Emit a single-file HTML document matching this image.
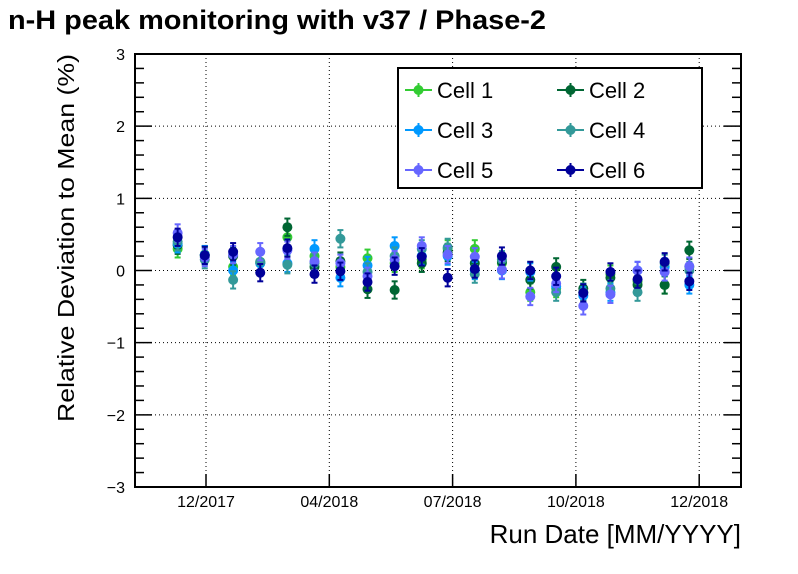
<!DOCTYPE html>
<html><head><meta charset="utf-8"><style>
body{margin:0;background:#fff;}
svg{display:block;font-family:"Liberation Sans",Arial,sans-serif;}
</style></head><body>
<svg id="chart" width="798" height="574" viewBox="0 0 798 574">
<rect width="798" height="574" fill="#fff"/>
<text x="8" y="29" font-size="27" font-weight="bold" textLength="538" lengthAdjust="spacingAndGlyphs">n-H peak monitoring with v37 / Phase-2</text>
<g id="grid"></g>
<g id="axes"></g>
<g id="series"></g>
<text transform="translate(74,422) rotate(-90)" font-size="23" textLength="368" lengthAdjust="spacingAndGlyphs">Relative Deviation to Mean (%)</text>
<text x="741" y="543" font-size="26" text-anchor="end">Run Date [MM/YYYY]</text>
<g id="legend"></g>
</svg>
<script>
const xTickLabels=["12/2017","04/2018","07/2018","10/2018","12/2018"];
const yTicks=[-3,-2,-1,0,1,2,3];
// run positions in units of x-axis label index
const runX=[-0.23,-0.01,0.22,0.44,0.66,0.88,1.09,1.31,1.53,1.75,1.96,2.18,2.40,2.63,2.84,3.06,3.28,3.50,3.72,3.92];
const cell1=[0.30,0.20,0.05,0.12,0.46,0.20,0.05,0.17,0.10,0.15,0.30,0.30,0.10,-0.30,-0.25,-0.30,-0.05,-0.15,-0.20,0.05];
const cell2=[0.35,0.22,0.20,0.10,0.60,0.05,0.13,-0.26,-0.27,0.10,0.25,0.10,0.12,-0.13,0.05,-0.25,-0.10,-0.20,-0.20,0.28];
const cell3=[0.37,0.22,0.00,0.10,0.10,0.30,-0.10,0.07,0.34,0.20,0.20,0.00,0.00,-0.02,-0.22,-0.35,-0.30,0.00,0.05,-0.20];
const cell4=[0.40,0.15,-0.13,0.12,0.08,0.10,0.44,-0.02,0.20,0.30,0.32,-0.05,0.15,0.00,-0.30,-0.30,-0.25,-0.30,0.10,0.00];
const cell5=[0.52,0.18,0.22,0.26,0.28,0.13,0.10,-0.08,0.15,0.34,0.22,0.19,0.01,-0.36,-0.18,-0.49,-0.33,0.00,-0.02,0.06];
const cell6=[0.46,0.21,0.26,-0.03,0.31,-0.05,-0.01,-0.16,0.06,0.19,-0.10,0.02,0.20,0.00,-0.08,-0.31,-0.02,-0.12,0.12,-0.15];
const errs=[0.12,0.12,0.12,0.12,0.12,0.12];
const names=["Cell 1","Cell 2","Cell 3","Cell 4","Cell 5","Cell 6"];
const colors=["#33cc33","#006633","#0099ff","#339999","#6666ff","#000099"];
const series=[cell1,cell2,cell3,cell4,cell5,cell6];

const L=135,R=741,T=54,B=487,X0=206,DX=123.3;
const xs=v=>X0+v*DX;
const ys=v=>T+(3-v)*(B-T)/6;
const NS="http://www.w3.org/2000/svg";
function mk(tag,attrs,parent){const e=document.createElementNS(NS,tag);for(const k in attrs)e.setAttribute(k,attrs[k]);parent.appendChild(e);return e;}
const grid=document.getElementById('grid'),axes=document.getElementById('axes'),sg=document.getElementById('series'),lg=document.getElementById('legend');
xTickLabels.forEach((lab,i)=>{const x=xs(i);
 const g=mk('line',{x1:x,x2:x,y1:T,y2:B,stroke:'#000','stroke-dasharray':'1,3','stroke-width':1},grid);
 
 
 const t=mk('line',{x1:x,x2:x,y1:B,y2:B-13,stroke:'#000','stroke-width':1.5},axes);
 
 
 const tx=mk('text',{x:x,y:B+20,'font-size':16,'text-anchor':'middle'},axes);tx.textContent=lab;
 
 
});
yTicks.forEach(v=>{const y=ys(v);
 if(v>-3&&v<3){const g=mk('line',{x1:L,x2:R,y1:y,y2:y,stroke:'#000','stroke-dasharray':'1,3','stroke-width':1},grid);
 
 }
 const t=mk('line',{x1:L,x2:L+17,y1:y,y2:y,stroke:'#000','stroke-width':1.5},axes);
 
 
 const t2=mk('line',{x1:R,x2:R-17,y1:y,y2:y,stroke:'#000','stroke-width':1.5},axes);
 
 
 const tx=mk('text',{x:L-10,y:y+6,'font-size':16,'text-anchor':'end'},axes);tx.textContent=(v<0?'\u2212':'')+Math.abs(v);
 
 
 if(v<3)for(let k=1;k<5;k++){const yy=y-k*(B-T)/30;
  const m=mk('line',{x1:L,x2:L+9,y1:yy,y2:yy,stroke:'#000','stroke-width':1.5},axes);
  
  
  const m2=mk('line',{x1:R,x2:R-9,y1:yy,y2:yy,stroke:'#000','stroke-width':1.5},axes);
  
  }
});
const fr=mk('rect',{x:L,y:T,width:R-L,height:B-T,fill:'none',stroke:'#000','stroke-width':2},axes);


series.forEach((vals,s)=>{const g=mk('g',{},sg);
 
 
 vals.forEach((v,i)=>{const x=xs(runX[i]),y=ys(v),e1=ys(v+errs[s]),e2=ys(v-errs[s]);
  const l=mk('line',{x1:x,x2:x,y1:e1,y2:e2,stroke:colors[s],'stroke-width':2},g);
  
  
  mk('line',{x1:x-3,x2:x+3,y1:e1,y2:e1,stroke:colors[s],'stroke-width':2},g);
  mk('line',{x1:x-3,x2:x+3,y1:e2,y2:e2,stroke:colors[s],'stroke-width':2},g);
  const c=mk('circle',{cx:x,cy:y,r:5,fill:colors[s]},g);
  
  
 });
});
mk('rect',{x:398,y:68,width:304,height:120,fill:'#fff',stroke:'#000','stroke-width':2},lg);
names.forEach((n,i)=>{const col=i%2,row=Math.floor(i/2);const x=405+col*152,y=90+row*40;
 const g=mk('g',{},lg);
 
 
 mk('line',{x1:x,x2:x+27,y1:y,y2:y,stroke:colors[i],'stroke-width':2},g);
 mk('line',{x1:x+13.5,x2:x+13.5,y1:y-7,y2:y+7,stroke:colors[i],'stroke-width':2},g);
 mk('circle',{cx:x+13.5,cy:y,r:5,fill:colors[i]},g);
 const t=mk('text',{x:x+32,y:y+8,'font-size':22},g);t.textContent=n;
});
</script>
</body></html>
